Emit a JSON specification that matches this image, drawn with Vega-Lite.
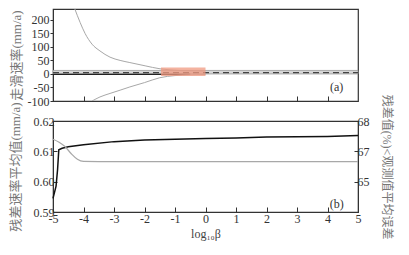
{
  "$schema": "https://vega.github.io/schema/vega-lite/v6.json",
  "padding": {"left": 8, "top": 8, "right": 2, "bottom": 2},
  "bounds": "flush",
  "spacing": 20,
  "config": {
    "view": {"stroke": "#333", "strokeWidth": 1.2},
    "axis": {"labelFont": "Liberation Serif", "labelFontSize": 12, "labelColor": "#333", "labelOverlap": false, "labelFlush": false, "titleFont": "Liberation Serif, Noto Sans CJK SC", "titleFontSize": 13, "titleFontWeight": "normal", "titleColor": "#777", "domainColor": "#333", "tickColor": "#333", "grid": false},
    "axisQuantitative": {"labelOverlap": false}
  },
  "vconcat": [
    {
      "width": 305, "height": 92,
      "encoding": {
        "x": {"field": "x", "type": "quantitative", "scale": {"domain": [-5, 5], "nice": false}, "axis": {"values": [-4,-3,-2,-1,0,1,2,3,4], "labels": false, "tickSize": -5, "domain": false, "title": null}},
        "y": {"field": "y", "type": "quantitative", "scale": {"domain": [-100, 240], "nice": false}, "axis": {"values": [-100,-50,0,50,100,150,200], "labelOverlap": false, "labelExpr": "replace(datum.label, '\u2212', '-')", "tickSize": 3, "labelPadding": 1, "title": "走滑速率(mm/a)", "titlePadding": 4}}
      },
      "layer": [
        {
          "data": {"values": [{"x": -5, "x2": 5, "y": 0, "y2": 13}]},
          "mark": {"type": "rect", "color": "#d6d6d6", "stroke": "#999", "strokeWidth": 0.8},
          "encoding": {"x2": {"field": "x2"}, "y2": {"field": "y2"}}
        },
        {
          "data": {"values": [{"x": -5, "y": -1.5}, {"x": -0.5, "y": -1.5}]},
          "mark": {"type": "line", "color": "#222", "strokeWidth": 1.3},
          "encoding": {}
        },
        {
          "data": {"values": [{"x": -5, "y": 5}, {"x": 5, "y": 5}]},
          "mark": {"type": "line", "color": "#444", "strokeWidth": 1.3, "strokeDash": [6, 4]},
          "encoding": {}
        },
        {
          "data": {"values": [
            {"x": -4.3, "y": 245, "s": "u"}, {"x": -4.11, "y": 190, "s": "u"}, {"x": -3.95, "y": 150, "s": "u"}, {"x": -3.72, "y": 110, "s": "u"}, {"x": -3.46, "y": 85, "s": "u"}, {"x": -3.13, "y": 62, "s": "u"}, {"x": -2.8, "y": 50, "s": "u"}, {"x": -2.48, "y": 42, "s": "u"}, {"x": -1.98, "y": 30, "s": "u"}, {"x": -1.49, "y": 19, "s": "u"}, {"x": -1.16, "y": 15, "s": "u"}, {"x": -0.67, "y": 12, "s": "u"}, {"x": 0, "y": 11, "s": "u"},
            {"x": -3.72, "y": -100, "s": "l"}, {"x": -3.46, "y": -85, "s": "l"}, {"x": -3.13, "y": -72, "s": "l"}, {"x": -2.8, "y": -60, "s": "l"}, {"x": -2.48, "y": -48, "s": "l"}, {"x": -2.0, "y": -32, "s": "l"}, {"x": -1.5, "y": -14, "s": "l"}, {"x": -1.0, "y": -6, "s": "l"}, {"x": -0.5, "y": -3, "s": "l"}, {"x": 0, "y": -2, "s": "l"}
          ]},
          "mark": {"type": "line", "color": "#a8a8a8", "strokeWidth": 1, "clip": true, "interpolate": "monotone"},
          "encoding": {"detail": {"field": "s"}}
        },
        {
          "data": {"values": [{"x": -1.46, "x2": 0, "y": -8, "y2": 24}]},
          "mark": {"type": "rect", "color": "#f09a80", "opacity": 0.75},
          "encoding": {"x2": {"field": "x2"}, "y2": {"field": "y2"}}
        },
        {
          "data": {"values": [{"x": 4.3, "y": -50, "t": "(a)"}]},
          "mark": {"type": "text", "font": "Liberation Serif", "fontSize": 12, "color": "#333"},
          "encoding": {"text": {"field": "t"}}
        }
      ]
    },
    {
      "width": 305, "height": 91,
      "encoding": {
        "x": {"field": "x", "type": "quantitative", "scale": {"domain": [-5, 5], "nice": false}, "axis": {"values": [-5,-4,-3,-2,-1,0,1,2,3,4,5], "labelOverlap": false, "labelExpr": "replace(datum.label, '\u2212', '-')", "tickSize": -5, "labelPadding": 6, "title": "log₁₀β", "titleFont": "Liberation Serif", "titleFontSize": 12, "titleColor": "#444", "titlePadding": 4}}
      },
      "resolve": {"scale": {"y": "independent"}},
      "layer": [
        {
          "encoding": {
            "y": {"field": "y", "type": "quantitative", "scale": {"domain": [0.59, 0.62], "nice": false}, "axis": {"values": [0.59, 0.6, 0.61, 0.62], "labelOverlap": false, "format": ".2f", "tickSize": -4, "labelPadding": 3, "title": "残差速率平均值(mm/a)", "titlePadding": 11}}
          },
          "layer": [
            {
              "data": {"values": [
                {"x": -5, "y": 0.5945}, {"x": -4.9, "y": 0.5985}, {"x": -4.85, "y": 0.604}, {"x": -4.81, "y": 0.6105}, {"x": -4.7, "y": 0.611}, {"x": -4.5, "y": 0.6115}, {"x": -4, "y": 0.6122}, {"x": -3, "y": 0.6132}, {"x": -2, "y": 0.6137}, {"x": -1, "y": 0.614}, {"x": 0, "y": 0.6142}, {"x": 1, "y": 0.6144}, {"x": 2, "y": 0.6147}, {"x": 3, "y": 0.6148}, {"x": 4, "y": 0.6149}, {"x": 5, "y": 0.6152}
              ]},
              "mark": {"type": "line", "color": "#111", "strokeWidth": 1.5},
              "encoding": {}
            },
            {
              "data": {"values": [{"x": 4.3, "y": 0.5925, "t": "(b)"}]},
              "mark": {"type": "text", "font": "Liberation Serif", "fontSize": 12, "color": "#333"},
              "encoding": {"text": {"field": "t"}}
            }
          ]
        },
        {
          "data": {"values": [
            {"x": -5, "y": 67.4}, {"x": -4.8, "y": 67.3}, {"x": -4.6, "y": 67.15}, {"x": -4.4, "y": 66.92}, {"x": -4.2, "y": 66.74}, {"x": -4, "y": 66.67}, {"x": -3, "y": 66.66}, {"x": 0, "y": 66.66}, {"x": 5, "y": 66.66}
          ]},
          "mark": {"type": "line", "color": "#a8a8a8", "strokeWidth": 1.2, "interpolate": "monotone"},
          "encoding": {
            "y": {"field": "y", "type": "quantitative", "scale": {"domain": [65, 68], "nice": false}, "axis": {"orient": "right", "values": [66, 67, 68], "labelOverlap": false, "labelExpr": "datum.value == 66 ? '65' : datum.label", "tickSize": -4, "labelPadding": 3, "title": "残差值(%)<观测值平均误差", "titleFontSize": 12, "titlePadding": 10}}
          }
        }
      ]
    }
  ]
}
